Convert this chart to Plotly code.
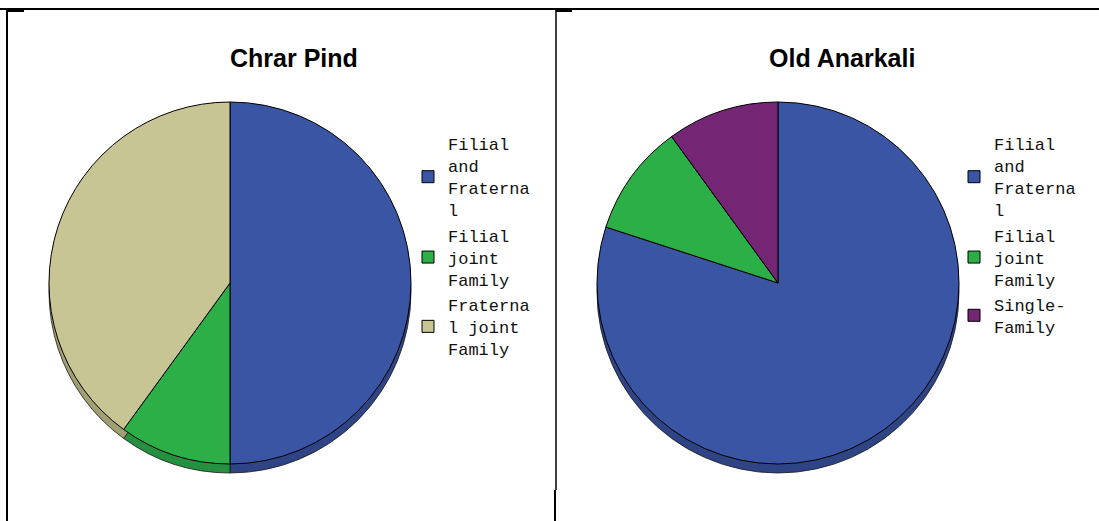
import plotly.graph_objects as go

W, H = 1099, 521

# ---- data ----
titles = ["Chrar Pind", "Old Anarkali"]
labels_left = ["Filial<br>and<br>Fraterna<br>l", "Filial<br>joint<br>Family", "Fraterna<br>l joint<br>Family"]
values_left = [50, 10, 40]
# trailing space keeps the right-hand legend independent from the left-hand one
labels_right = ["Filial<br>and<br>Fraterna<br>l ", "Filial<br>joint<br>Family ", "Single-<br>Family "]
values_right = [80, 10, 10]

colors_left = ["#3B55A5", "#2DAF48", "#C8C594"]
shadow_left = ["#2E4485", "#259140", "#A29F74"]
colors_right = ["#3B55A5", "#2DAF48", "#742675"]
shadow_right = ["#2E4485", "#259140", "#5C1E5D"]


def px_x(v):
    return v / W


def px_y(v):
    return 1 - v / H


def dom(cx, cy, r):
    return dict(x=[px_x(cx - r), px_x(cx + r)], y=[px_y(cy + r), px_y(cy - r)])


R = 181
CY = 283
DEPTH = 9
fig = go.Figure()

for (labels, values, cols, scols, cx, leg) in [
    (labels_left, values_left, colors_left, shadow_left, 230, "legend"),
    (labels_right, values_right, colors_right, shadow_right, 778, "legend2"),
]:
    # 3D rim (darker copy slightly below)
    fig.add_trace(go.Pie(
        labels=labels, values=values, sort=False, direction="clockwise", rotation=0,
        marker=dict(colors=scols, line=dict(color="#1a1a1a", width=0.8)),
        textinfo="none", hoverinfo="skip", showlegend=False, legend=leg,
        domain=dom(cx, CY + DEPTH, R),
    ))
    fig.add_trace(go.Pie(
        labels=labels, values=values, sort=False, direction="clockwise", rotation=0,
        marker=dict(colors=cols, line=dict(color="black", width=1)),
        textinfo="none", showlegend=True, legend=leg,
        domain=dom(cx, CY, R),
    ))

legend_font = dict(family="Liberation Mono, Courier New, monospace", size=17, color="#111")
fig.update_layout(
    width=W, height=H,
    margin=dict(l=0, r=0, t=0, b=0),
    paper_bgcolor="white", plot_bgcolor="white",
    legend=dict(x=px_x(408), y=px_y(126), xanchor="left", yanchor="top",
                font=legend_font, bgcolor="rgba(0,0,0,0)", valign="middle",
                tracegroupgap=0),
    legend2=dict(x=px_x(954), y=px_y(126), xanchor="left", yanchor="top",
                 font=legend_font, bgcolor="rgba(0,0,0,0)", valign="middle",
                 tracegroupgap=0),
    annotations=[
        dict(text="<b>%s</b>" % titles[0], x=px_x(294), y=px_y(58), xref="paper", yref="paper",
             xanchor="center", yanchor="middle",
             showarrow=False, font=dict(family="Liberation Sans, Arial", size=25, color="black")),
        dict(text="<b>%s</b>" % titles[1], x=px_x(842), y=px_y(58), xref="paper", yref="paper",
             xanchor="center", yanchor="middle",
             showarrow=False, font=dict(family="Liberation Sans, Arial", size=25, color="black")),
    ],
    shapes=[
        dict(type="line", xref="paper", yref="paper", x0=0, x1=1, y0=px_y(9), y1=px_y(9),
             line=dict(color="black", width=2)),
        dict(type="line", xref="paper", yref="paper", x0=px_x(7), x1=px_x(7), y0=px_y(9), y1=0,
             line=dict(color="black", width=2)),
        dict(type="line", xref="paper", yref="paper", x0=px_x(8), x1=px_x(24), y0=px_y(11), y1=px_y(11),
             line=dict(color="black", width=2)),
        dict(type="line", xref="paper", yref="paper", x0=px_x(556), x1=px_x(572), y0=px_y(11), y1=px_y(11),
             line=dict(color="black", width=2)),
        dict(type="line", xref="paper", yref="paper", x0=px_x(556), x1=px_x(556), y0=px_y(9), y1=px_y(490),
             line=dict(color="black", width=1.5)),
        dict(type="line", xref="paper", yref="paper", x0=px_x(555), x1=px_x(555), y0=px_y(490), y1=0,
             line=dict(color="black", width=2)),
    ],
)

fig.write_html("out.html")
